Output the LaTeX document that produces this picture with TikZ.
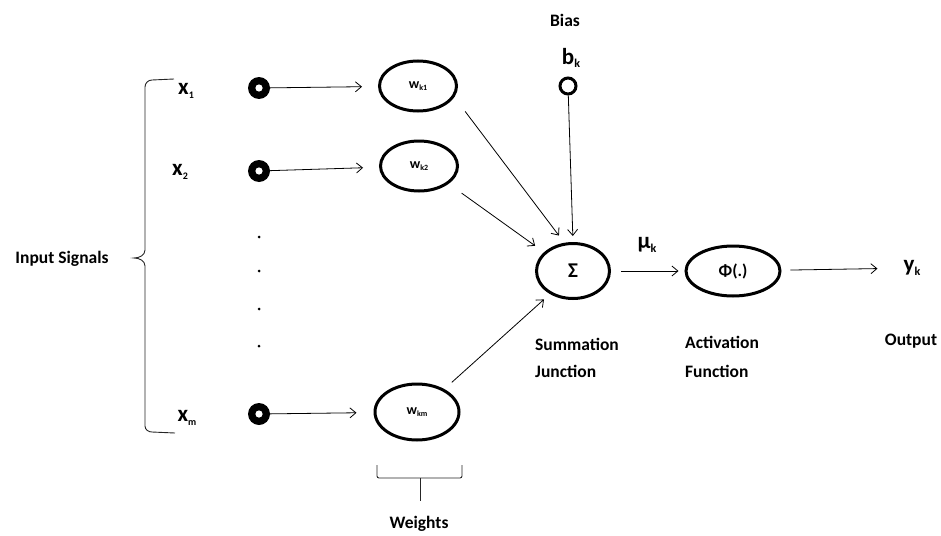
\documentclass[tikz,border=0pt]{standalone}
\usepackage{fontspec}
\setmainfont{Carlito}
\usetikzlibrary{shapes.geometric,arrows.meta}
\newcommand\fsz[1]{\fontsize{#1}{#1}\selectfont}
\newcommand\lsub[2]{\raisebox{-0.15em}{\fsz{#1}#2}}
\begin{document}
\begin{tikzpicture}[x=1pt,y=-1pt,
  lbl/.style={font=\bfseries\fsz{17.5}, inner sep=0pt},
  var/.style={font=\bfseries\fsz{23}, inner sep=0pt},
  wnode/.style={ellipse, draw, line width=3pt, minimum width=77pt, minimum height=50pt, inner sep=0pt, font=\bfseries\fsz{14}},
  opnode/.style={ellipse, draw, line width=3pt, inner sep=0pt, font=\bfseries\fsz{17}},
  inring/.style={circle, fill=black, minimum size=22pt, inner sep=0pt,
    path picture={\fill[white] (path picture bounding box.center) circle (3.6pt);}},
  biasring/.style={circle, draw, line width=3pt, minimum size=16pt, inner sep=0pt},
  dotn/.style={circle, fill, minimum size=3pt, inner sep=0pt},
  conn/.style={line width=0.8pt, -{Straight Barb[length=6pt,width=10pt]}},
  bracel/.style={line width=0.9pt, black!85},
]
\useasboundingbox (0,0) rectangle (941,535);

% input labels
\node[lbl] (ins) at (62,259) {Input Signals};
\node[var] (lx1) at (186,91) {x\lsub{10}{1}};
\node[var] (lx2) at (180,172) {x\lsub{10}{2}};
\node[var] (lxm) at (187,418) {x\lsub{10}{m}};

% input rings
\node[inring] (x1) at (259,88) {};
\node[inring] (x2) at (259,171) {};
\node[inring] (xm) at (259,414) {};

% dots
\node[dotn] (d1) at (259,237) {};
\node[dotn] (d2) at (259,271) {};
\node[dotn] (d3) at (259,309) {};
\node[dotn] (d4) at (259,346) {};

% weights
\node[wnode] (wk1) at (418,86) {w\lsub{8}{k1}};
\node[wnode] (wk2) at (419,166) {w\lsub{8}{k2}};
\node[wnode, minimum width=84pt, minimum height=56pt] (wkm) at (417,412) {w\lsub{8}{km}};

% bias
\node[lbl] (biasl) at (565,20) {Bias};
\node[var] (bk) at (571,58) {b\lsub{12}{k}};
\node[biasring] (bias) at (568,86) {};

% summation and activation
\node[opnode, minimum width=73pt, minimum height=55pt, font=\bfseries\fsz{21}] (sig) at (573,271) {Σ};
\node[opnode, minimum width=94pt, minimum height=50pt] (phi) at (733,271) {Φ(.)};
\node[var] (mu) at (647,245) {μ\lsub{12}{k}};
\node[var] (yk) at (912,268) {y\lsub{12}{k}};

\node[lbl, anchor=west] (sum1) at (535,344) {Summation};
\node[lbl, anchor=west] (sum2) at (535,371) {Junction};
\node[lbl, anchor=west] (act1) at (685,342) {Activation};
\node[lbl, anchor=west] (act2) at (685,371) {Function};
\node[lbl] (outl) at (911,341) {Output};
\node[lbl] (wlab) at (419,524) {Weights};

% connectors
\draw[conn, shorten >=16pt] (x1) -- (wk1);
\draw[conn, shorten >=16pt] (x2) -- (wk2);
\draw[conn, shorten >=17pt] (xm) -- (wkm);
\draw[conn, shorten <=18pt, shorten >=9pt] (wk1.-17) -- (sig.107);
\draw[conn, shorten <=16pt, shorten >=11pt] (wk2.-31) -- (sig.147);
\draw[conn, shorten <=10pt, shorten >=8pt] (wkm.40) -- (sig.-135);
\draw[conn, shorten >=6pt] (bias) -- (sig.north);
\draw[conn, shorten <=10pt, shorten >=6pt] (sig) -- (phi);
\draw[conn, shorten <=9pt, shorten >=26pt] (phi) -- (yk);

% big input brace
\draw[bracel] (174,79) -- (152,80) to[out=180,in=90] (145,87) -- (145,250)
  to[out=-90,in=0] (134,258) to[out=0,in=90] (145,266) -- (145,426)
  to[out=-90,in=180] (152,432) -- (175,433);

% weights brace
\draw[bracel, rounded corners=2pt] (377,465) -- (377,478) -- (462,478) -- (462,465);
\draw[bracel] (420,478) -- (420,501);
\end{tikzpicture}
\end{document}
